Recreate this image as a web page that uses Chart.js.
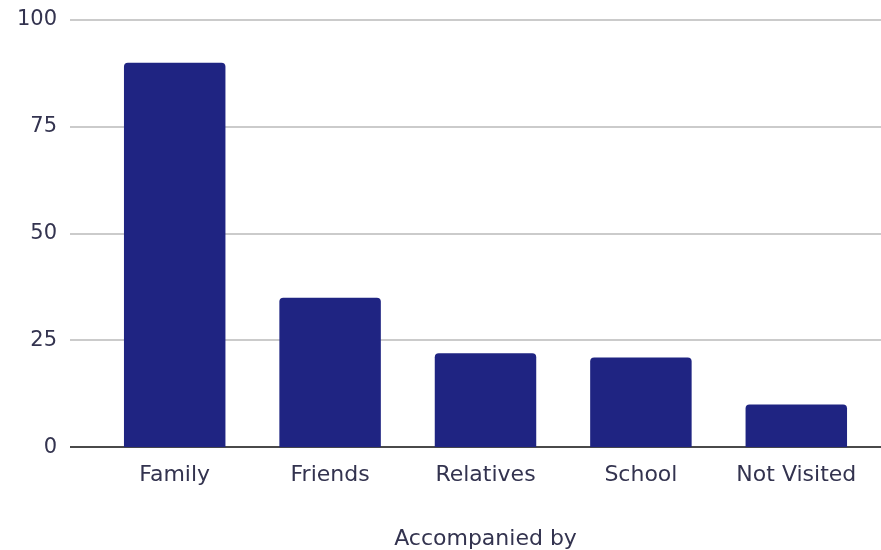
<!DOCTYPE html>
<html lang="en">
<head>
    <meta charset="UTF-8">
    <title>Accompanied by</title>
    <script src="https://cdn.jsdelivr.net/npm/chart.js@4"></script>
    <style>
        html, body { margin: 0; padding: 0; background: #fff; }
        #wrap { width: 881px; height: 550px; }
    </style>
</head>
<body>
<div id="wrap"><canvas id="accompanied_chart" width="881" height="550"></canvas></div>

<script>
    var categories = ["Family", "Friends", "Relatives", "School", "Not Visited"];
    var visits = [90, 35, 22, 21, 10];
    var yTicks = [0, 25, 50, 75, 100];

    var textColor = "#33334f";
    var font = "'DejaVu Sans', Verdana, sans-serif";

    // grid lines run a bit wider than the plot area, so draw them by hand
    var wideGrid = {
        id: "wideGrid",
        beforeDatasetsDraw: function(chart) {
            var ctx = chart.ctx;
            var y = chart.scales.y;
            var left = 70, right = 881;
            ctx.save();
            y.ticks.forEach(function(t) {
                var py = Math.round(y.getPixelForValue(t.value));
                ctx.beginPath();
                ctx.lineWidth = 2;
                ctx.strokeStyle = t.value === 0 ? "#4a4a4a" : "#cbcbcb";
                ctx.moveTo(left, py);
                ctx.lineTo(right, py);
                ctx.stroke();
            });
            ctx.restore();
        }
    };

    var ctx = document.getElementById("accompanied_chart").getContext("2d");
    var chart = new Chart(ctx, {
        type: "bar",
        data: {
            labels: categories,
            datasets: [{
                data: visits,
                backgroundColor: "#1f2482",
                borderWidth: 0,
                borderRadius: { topLeft: 4, topRight: 4 },
                borderSkipped: "bottom",
                categoryPercentage: 0.653,
                barPercentage: 1
            }]
        },
        options: {
            responsive: false,
            animation: false,
            layout: { padding: { left: 17, right: 7, top: 20, bottom: 0 } },
            plugins: {
                legend: { display: false },
                tooltip: { enabled: false }
            },
            scales: {
                x: {
                    grid: { display: false, drawTicks: false },
                    border: { display: false },
                    ticks: {
                        color: textColor,
                        font: { family: font, size: 22 },
                        padding: 15,
                        maxRotation: 0
                    },
                    title: {
                        display: true,
                        text: "Accompanied by",
                        color: textColor,
                        font: { family: font, size: 22 },
                        padding: { top: 22, bottom: -2 }
                    }
                },
                y: {
                    min: 0,
                    max: 100,
                    afterBuildTicks: function(scale) {
                        scale.ticks = yTicks.map(function(v) { return { value: v }; });
                    },
                    afterFit: function(scale) {
                        scale.width = 80;
                        scale.paddingTop = 11;
                        scale.paddingBottom = 11;
                    },
                    grid: { display: false, drawTicks: false },
                    border: { display: false },
                    ticks: {
                        color: textColor,
                        font: { family: font, size: 21 },
                        padding: 40
                    }
                }
            }
        },
        plugins: [wideGrid]
    });
</script>
</body>
</html>
